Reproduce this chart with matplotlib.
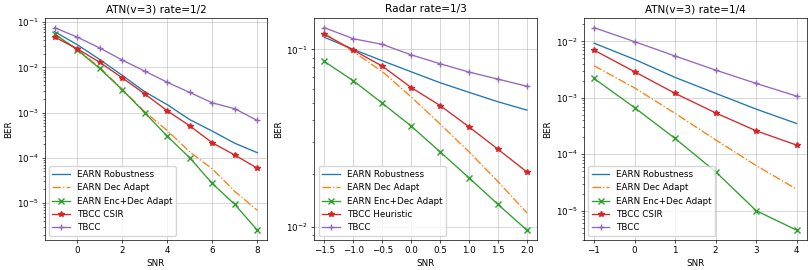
import matplotlib.pyplot as plt

labels_csir = ['EARN Robustness', 'EARN Dec Adapt', 'EARN Enc+Dec Adapt', 'TBCC CSIR', 'TBCC']
labels_radar = ['EARN Robustness', 'EARN Dec Adapt', 'EARN Enc+Dec Adapt', 'TBCC Heuristic', 'TBCC']

# ATN(v=3) rate=1/2
snr_a = [-1, 0, 1, 2, 3, 4, 5, 6, 7, 8]
robust_a = [0.062, 0.032, 0.015, 0.0067, 0.0029, 0.0015, 7.0e-4, 3.9e-4, 2.1e-4, 1.3e-4]
dec_a = [0.055, 0.025, 0.010, 0.0033, 1.05e-3, 4.0e-4, 1.35e-4, 5.7e-5, 1.8e-5, 6.9e-6]
encdec_a = [0.055, 0.0245, 0.0095, 0.0032, 1.0e-3, 3.0e-4, 1.0e-4, 2.7e-5, 9.3e-6, 2.5e-6]
csir_a = [0.047, 0.026, 0.013, 0.0059, 0.0026, 0.0011, 5.1e-4, 2.15e-4, 1.15e-4, 5.9e-5]
tbcc_a = [0.076, 0.047, 0.027, 0.0146, 0.0083, 0.0047, 0.0028, 0.00165, 0.00122, 6.7e-4]

# Radar rate=1/3
snr_b = [-1.5, -1.0, -0.5, 0.0, 0.5, 1.0, 1.5, 2.0]
robust_b = [0.117, 0.100, 0.0863, 0.0748, 0.0649, 0.0573, 0.0507, 0.0455]
dec_b = [0.123, 0.097, 0.075, 0.054, 0.038, 0.0265, 0.018, 0.012]
encdec_b = [0.0855, 0.0666, 0.0498, 0.037, 0.0265, 0.0189, 0.0134, 0.0096]
heur_b = [0.1215, 0.099, 0.0805, 0.061, 0.0483, 0.0366, 0.0274, 0.0204]
tbcc_b = [0.1325, 0.1148, 0.1067, 0.0932, 0.083, 0.0745, 0.068, 0.062]

# ATN(v=3) rate=1/4
snr_c = [-1, 0, 1, 2, 3, 4]
robust_c = [0.0093, 0.0048, 0.0023, 0.0012, 6.3e-4, 3.5e-4]
dec_c = [0.0037, 0.0015, 5.3e-4, 1.8e-4, 6.3e-5, 2.4e-5]
encdec_c = [0.0022, 6.7e-4, 1.9e-4, 4.9e-5, 1.0e-5, 4.5e-6]
csir_c = [0.0070, 0.0029, 0.0012, 5.4e-4, 2.6e-4, 1.45e-4]
tbcc_c = [0.0175, 0.0099, 0.0055, 0.0031, 0.0018, 0.00107]

# looks like a default-styled figure shrunk down, so scale the defaults
plt.rcParams.update({
    'font.size': 6.3,
    'axes.titlesize': 7.6,
    'axes.linewidth': 0.5,
    'axes.labelpad': 2.5,
    'xtick.major.size': 2.2,
    'ytick.major.size': 2.2,
    'xtick.minor.size': 1.3,
    'ytick.minor.size': 1.3,
    'xtick.major.width': 0.5,
    'ytick.major.width': 0.5,
    'xtick.minor.width': 0.4,
    'ytick.minor.width': 0.4,
    'xtick.major.pad': 2.2,
    'ytick.major.pad': 2.2,
    'grid.linewidth': 0.5,
    'legend.fontsize': 6.3,
    'axes.titlepad': 3.8,
})


def draw(ax, snr, series, labels, title):
    styles = [
        dict(color='tab:blue', linestyle='-'),
        dict(color='tab:orange', linestyle='-.'),
        dict(color='tab:green', linestyle='-', marker='x'),
        dict(color='tab:red', linestyle='-', marker='*'),
        dict(color='tab:purple', linestyle='-', marker='+'),
    ]
    for ys, lab, st in zip(series, labels, styles):
        ax.semilogy(snr, ys, label=lab, linewidth=0.95, markersize=3.8, **st)
    ax.set_title(title)
    ax.set_xlabel('SNR')
    ax.set_ylabel('BER')
    ax.grid(True, color='#b0b0b0', alpha=0.7)
    ax.legend(loc='lower left')


fig, axes = plt.subplots(1, 3, figsize=(8.1, 2.7), dpi=100)
fig.subplots_adjust(left=0.055, right=0.996, bottom=0.11, top=0.935, wspace=0.21)

draw(axes[0], snr_a, [robust_a, dec_a, encdec_a, csir_a, tbcc_a], labels_csir, 'ATN(v=3) rate=1/2')
draw(axes[1], snr_b, [robust_b, dec_b, encdec_b, heur_b, tbcc_b], labels_radar, 'Radar rate=1/3')
draw(axes[2], snr_c, [robust_c, dec_c, encdec_c, csir_c, tbcc_c], labels_csir, 'ATN(v=3) rate=1/4')

fig.savefig('out.png', dpi=100)
